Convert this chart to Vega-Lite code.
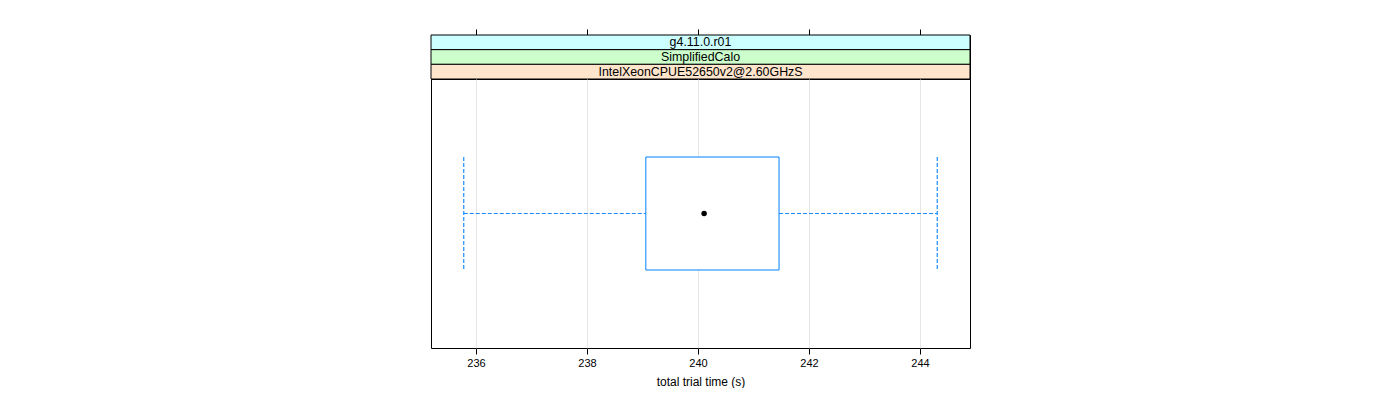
{
  "$schema": "https://vega.github.io/schema/vega-lite/v6.json",
  "padding": {"left": 430, "top": 28, "right": 0, "bottom": 0},
  "spacing": 0,
  "bounds": "flush",
  "config": {
    "font": "Liberation Sans",
    "view": {"stroke": "black", "strokeWidth": 1},
    "axis": {"labelColor": "black", "tickColor": "black", "titleColor": "black", "titleFontWeight": "normal"}
  },
  "vconcat": [
    {
      "width": 539,
      "height": 44,
      "data": {"values": [
        {"level": "g4.11.0.r01", "order": 1},
        {"level": "SimplifiedCalo", "order": 2},
        {"level": "IntelXeonCPUE52650v2@2.60GHzS", "order": 3}
      ]},
      "layer": [
        {
          "mark": {"type": "rect", "stroke": "black", "strokeWidth": 1},
          "encoding": {
            "y": {"field": "level", "type": "nominal", "sort": ["g4.11.0.r01", "SimplifiedCalo", "IntelXeonCPUE52650v2@2.60GHzS"], "scale": {"paddingInner": 0, "paddingOuter": 0}, "axis": null},
            "fill": {"field": "level", "type": "nominal", "scale": {"domain": ["g4.11.0.r01", "SimplifiedCalo", "IntelXeonCPUE52650v2@2.60GHzS"], "range": ["#ccffff", "#ccffcc", "#ffe5cc"]}, "legend": null}
          }
        },
        {
          "mark": {"type": "text", "fontSize": 12.4, "color": "black"},
          "encoding": {
            "y": {"field": "level", "type": "nominal", "sort": ["g4.11.0.r01", "SimplifiedCalo", "IntelXeonCPUE52650v2@2.60GHzS"], "axis": null},
            "text": {"field": "level", "type": "nominal"}
          }
        },
        {
          "data": {"values": [{"t": 236}, {"t": 244}]},
          "mark": {"type": "rule", "opacity": 0},
          "encoding": {
            "x": {"field": "t", "type": "quantitative", "scale": {"domain": [235.19, 244.9], "nice": false, "zero": false},
              "axis": {"orient": "top", "labels": false, "grid": false, "domain": false, "ticks": true, "tickSize": 6, "values": [236, 238, 240, 242, 244], "title": null}}
          }
        }
      ],
      "resolve": {"scale": {"y": "shared"}}
    },
    {
      "width": 539,
      "height": 269,
      "data": {"values": [
        {"group": "all", "min": 235.78, "q1": 239.06, "median": 240.11, "q3": 241.46, "max": 244.31}
      ]},
      "encoding": {
        "y": {"field": "group", "type": "nominal", "axis": null, "scale": {"paddingInner": 0, "paddingOuter": 0}}
      },
      "layer": [
        {
          "mark": {"type": "rule", "stroke": "#1a8cff", "strokeDash": [4, 2], "strokeWidth": 1.2},
          "encoding": {
            "x": {"field": "min", "type": "quantitative", "scale": {"domain": [235.19, 244.9], "nice": false, "zero": false},
              "axis": {"values": [236, 238, 240, 242, 244], "format": "d", "grid": true, "gridColor": "#e6e6e6", "domain": false, "tickSize": 6, "labelFontSize": 11, "labelPadding": 3, "title": "total trial time (s)", "titleFontSize": 12, "titlePadding": 8}},
            "x2": {"field": "q1"}
          }
        },
        {
          "mark": {"type": "rule", "stroke": "#1a8cff", "strokeDash": [4, 2], "strokeWidth": 1.2},
          "encoding": {"x": {"field": "q3", "type": "quantitative"}, "x2": {"field": "max"}}
        },
        {
          "mark": {"type": "rule", "stroke": "#1a8cff", "strokeDash": [4, 2], "strokeWidth": 1.2},
          "encoding": {
            "x": {"field": "min", "type": "quantitative"},
            "y": {"field": "group", "type": "nominal", "bandPosition": 0.29},
            "y2": {"field": "group", "bandPosition": 0.71}
          }
        },
        {
          "mark": {"type": "rule", "stroke": "#1a8cff", "strokeDash": [4, 2], "strokeWidth": 1.2},
          "encoding": {
            "x": {"field": "max", "type": "quantitative"},
            "y": {"field": "group", "type": "nominal", "bandPosition": 0.29},
            "y2": {"field": "group", "bandPosition": 0.71}
          }
        },
        {
          "mark": {"type": "bar", "fill": "white", "stroke": "#0080ff", "strokeWidth": 1, "height": {"band": 0.42}},
          "encoding": {"x": {"field": "q1", "type": "quantitative"}, "x2": {"field": "q3"}}
        },
        {
          "mark": {"type": "point", "filled": true, "color": "black", "size": 30, "opacity": 1},
          "encoding": {"x": {"field": "median", "type": "quantitative"}}
        }
      ]
    }
  ]
}
